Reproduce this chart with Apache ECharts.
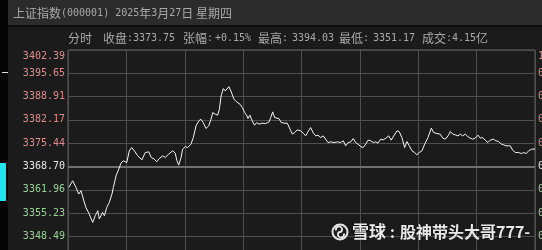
<!DOCTYPE html>
<html>
<head>
<meta charset="utf-8">
<script src="https://cdn.jsdelivr.net/npm/echarts@6/dist/echarts.min.js"></script>
<style>
html,body{margin:0;padding:0;background:#1b1b1b;}
#c{width:542px;height:250px;}
</style>
</head>
<body>
<div id="c"></div>
<script>
// ---- data ----
const PREV_CLOSE = 3368.70;
const pctTicks = [-1.0, -0.8, -0.6, -0.4, -0.2, 0, 0.2, 0.4, 0.6, 0.8, 1.0];
// minutes since 9:30 (0..240, lunch break removed)
const minutes = [0.4,2.4,4.1,5.5,6.7,7.9,9.2,10.9,12.7,14.0,15.3,16.1,17.8,18.7,19.9,21.2,22.6,23.3,24.7,26.1,
27.2,28.4,29.4,30.2,31.5,32.7,34.1,35.8,38.0,39.7,41.5,42.8,44.3,45.6,46.9,48.7,50.0,51.7,53.8,55.1,
56.0,56.9,58.1,58.9,60.3,61.5,63.2,64.4,65.8,67.2,68.3,69.5,70.9,72.3,73.5,74.4,75.7,76.9,77.8,78.7,
79.8,80.8,82.7,83.9,85.3,86.7,88.4,89.6,90.8,91.8,92.5,93.5,94.7,95.9,97.0,98.2,99.8,101.6,103.3,104.2,
105.2,106.2,107.2,108.4,109.6,111.0,112.7,114.1,115.3,116.5,117.8,119.6,120.9,122.1,123.3,124.7,126.1,127.3,128.5,129.9,
131.2,132.4,133.6,135.0,136.7,138.4,140.1,141.5,142.7,143.9,145.3,146.6,147.8,149.0,150.4,151.7,153.0,154.2,155.6,156.9,
158.1,159.3,160.7,162.0,163.4,164.8,166.1,167.4,169.1,170.2,171.6,173.0,174.2,175.4,176.8,178.2,179.3,180.5,181.9,183.3,
185.0,186.7,187.9,189.6,191.3,192.6,193.9,195.3,196.5,197.7,199.0,200.4,201.6,202.8,204.2,205.6,206.7,208.0,209.3,210.7,
211.9,213.1,214.4,215.8,217.0,218.7,219.9,221.3,222.7,223.9,225.1,226.1,227.3,228.5,229.9,231.6,233.0,234.2,235.4,236.8,
238.2,240.0];
const prices = [3362.64,3364.57,3362.64,3360.73,3361.69,3359.29,3356.86,3354.96,3352.53,3354.47,3355.91,3353.52,3355.42,3354.47,3356.86,3358.31,3360.73,3362.64,3366.02,3367.95,
3369.68,3370.35,3370.84,3369.85,3373.23,3374.18,3373.23,3371.79,3370.63,3372.74,3372.94,3371.30,3370.84,3370.06,3371.01,3371.79,3371.30,3372.28,3373.23,3372.57,
3370.35,3369.10,3371.30,3373.72,3374.47,3374.18,3375.17,3377.07,3380.45,3381.89,3382.38,3381.40,3379.67,3380.45,3382.38,3384.29,3383.83,3383.54,3385.27,3389.11,
3391.22,3390.55,3391.79,3390.26,3388.16,3387.38,3386.71,3385.73,3384.29,3383.54,3382.56,3383.54,3381.89,3380.65,3381.40,3380.94,3381.23,3381.11,3381.60,3382.85,
3384.49,3382.85,3382.38,3382.56,3381.40,3381.23,3381.23,3379.50,3378.05,3378.52,3379.29,3379.01,3378.34,3377.56,3378.72,3379.96,3378.34,3377.56,3377.76,3377.07,
3377.56,3376.61,3375.63,3375.83,3375.63,3375.83,3375.63,3376.12,3374.68,3375.63,3375.83,3376.78,3375.63,3375.17,3374.47,3374.18,3375.17,3376.32,3376.12,3375.63,
3375.83,3375.46,3376.61,3376.41,3376.90,3377.56,3376.32,3377.56,3379.01,3378.80,3377.07,3374.18,3375.92,3374.68,3373.23,3372.74,3372.08,3372.74,3373.23,3375.17,
3377.07,3379.79,3378.52,3378.23,3378.05,3376.90,3376.61,3377.56,3378.80,3378.05,3377.85,3377.56,3378.05,3377.56,3378.05,3377.27,3376.90,3376.61,3376.90,3377.76,
3376.90,3377.07,3376.32,3375.63,3376.32,3376.61,3376.12,3375.92,3375.17,3374.96,3374.68,3374.18,3374.68,3373.43,3372.74,3372.74,3372.45,3372.74,3372.45,3373.23,
3373.72,3373.72];
const titleText = {name:'上证指数', code:'(000001)', year:'2025', month:'3', day:'27', week:'星期四'};
const stats = {close:'3373.75', change:'+0.15%', high:'3394.03', low:'3351.17', volume:'4.15'};
const watermark = {site:'雪球', user:'股神带头大哥777-'};

// ---- chart ----
const chart = echarts.init(document.getElementById('c'), null, {renderer:'canvas'});
const MONO = '"DejaVu Sans Mono", monospace';
const CJK = '"Noto Sans CJK SC", sans-serif';
const RED = '#e08a8a', GREEN = '#96d496', WHITE = '#e6e6e6';
function cls(v){ return v > 0.001 ? 'r' : (v < -0.001 ? 'g' : 'w'); }
function pct(p){ return (p / PREV_CLOSE - 1) * 100; }
const lineData = minutes.map((m, i) => [m, pct(prices[i])]);

const labelRich = {
  r:{color:RED, fontFamily:MONO, fontSize:10},
  g:{color:GREEN, fontFamily:MONO, fontSize:10},
  w:{color:WHITE, fontFamily:MONO, fontSize:10},
  rt:{color:RED, fontFamily:MONO, fontSize:10, padding:[13,0,0,0]}
};

const hdrGray = '#a9a9a9', hdrRed = '#d46a6a', hdrGreen = '#80cc80';
function txt(x, y, text, rich){
  return {type:'text', x:x, y:y, silent:true,
    style:{text:text, rich:rich, verticalAlign:'middle', align:'left', font:'12px ' + CJK, fill:hdrGray}};
}
const hdrRich = (color) => ({
  c:{fontFamily:CJK, fontSize:12, color:hdrGray},
  m:{fontFamily:MONO, fontSize:10, color:color || hdrGray}
});

const option = {
  backgroundColor:'#1b1b1b',
  animation:false,
  grid:{left:68, right:7, top:50, bottom:-33, containLabel:false, outerBoundsMode:'none',
    show:true, borderColor:'#626262', borderWidth:1, backgroundColor:'transparent'},
  xAxis:{type:'value', min:0, max:240, interval:30,
    axisLine:{show:false}, axisTick:{show:false}, axisLabel:{show:false},
    splitLine:{show:true, lineStyle:{color:'#4e4e4e', width:1}}},
  yAxis:[
    {type:'value', min:-1, max:1, interval:0.2, position:'left',
      axisLine:{show:false}, axisTick:{show:false},
      splitLine:{show:true, lineStyle:{color:'#4e4e4e', width:1}},
      axisLabel:{margin:3, rich:labelRich, formatter:function(v){
        const s = (PREV_CLOSE * (1 + v / 100)).toFixed(2);
        if (v > 0.999) return '{rt|' + s + '}';
        return '{' + cls(v) + '|' + s + '}';
      }}},
    {type:'value', min:-1, max:1, interval:0.2, position:'right',
      axisLine:{show:false}, axisTick:{show:false}, splitLine:{show:false},
      axisLabel:{margin:3, rich:labelRich, formatter:function(v){
        const s = Math.abs(v).toFixed(2) + '%';
        if (v > 0.999) return '{rt|' + s + '}';
        return '{' + cls(v) + '|' + s + '}';
      }}}
  ],
  series:[{
    type:'line', data:lineData, showSymbol:false, symbol:'none',
    lineStyle:{color:'#f4f4f4', width:1}, z:5,
    markLine:{silent:true, symbol:'none', label:{show:false},
      lineStyle:{color:'#707070', width:2, type:'solid'}, data:[{yAxis:0}]}
  }],
  graphic:[
    {type:'rect', shape:{x:0, y:0, width:542, height:25}, style:{fill:'#2b2b2b'}, silent:true},
    {type:'rect', shape:{x:0, y:25, width:542, height:2}, style:{fill:'#0d0d0d'}, silent:true},
    {type:'rect', shape:{x:0, y:0, width:8, height:250}, style:{fill:'#050505'}, silent:true},
    {type:'rect', shape:{x:0, y:163, width:6, height:38}, style:{fill:'#22e4ec'}, silent:true},
    {type:'rect', shape:{x:2, y:72, width:6, height:1}, style:{fill:'#dddddd'}, silent:true},
    txt(13, 13, '{t|' + titleText.name + '}{n|' + titleText.code + ' ' + titleText.year + '}{t|年}{n|' + titleText.month + '}{t|月}{n|' + titleText.day + '}{t|日 ' + titleText.week + '}',
      {t:{fontFamily:CJK, fontSize:12, color:'#d2d2d2'}, n:{fontFamily:MONO, fontSize:10, color:'#d2d2d2'}}),
    txt(68, 38, '{c|分时}', {c:{fontFamily:CJK, fontSize:12, color:'#ffffff'}}),
    txt(103, 38, '{c|收盘}{m|:}', hdrRich()),
    txt(133, 38, '{m|' + stats.close + '}', hdrRich(hdrRed)),
    txt(183, 38, '{c|张幅}{m|:}', hdrRich()),
    txt(215, 38, '{m|' + stats.change + '}', hdrRich(hdrRed)),
    txt(258, 38, '{c|最高}{m|:}', hdrRich()),
    txt(292, 38, '{m|' + stats.high + '}', hdrRich(hdrRed)),
    txt(339, 38, '{c|最低}{m|:}', hdrRich()),
    txt(373, 38, '{m|' + stats.low + '}', hdrRich(hdrGreen)),
    txt(422, 38, '{c|成交}{m|:' + stats.volume + '}{c|亿}', hdrRich()),
    // watermark
    {type:'circle', shape:{cx:340, cy:232, r:7.5}, style:{fill:'none', stroke:'#e6e6e6', lineWidth:2}, silent:true, z:100},
    {type:'arc', shape:{cx:339, cy:229.5, r:3, startAngle:Math.PI*0.9, endAngle:Math.PI*2.4}, style:{fill:'none', stroke:'#e6e6e6', lineWidth:1.8}, silent:true, z:100},
    {type:'arc', shape:{cx:341, cy:234.5, r:3, startAngle:Math.PI*1.9, endAngle:Math.PI*3.4}, style:{fill:'none', stroke:'#e6e6e6', lineWidth:1.8}, silent:true, z:100},
    {type:'text', x:352, y:232, z:100, silent:true, style:{text:watermark.site, font:'bold 17px ' + CJK, fill:'#e8e8e8', verticalAlign:'middle', textShadowColor:'rgba(0,0,0,0.5)', textShadowBlur:2}},
    {type:'text', x:390, y:232, z:100, silent:true, style:{text:':', font:'bold 15px ' + CJK, fill:'#e8e8e8', verticalAlign:'middle'}},
    {type:'text', x:400, y:232, z:100, silent:true, style:{text:watermark.user, font:'bold 16px ' + CJK, fill:'#e8e8e8', verticalAlign:'middle', textShadowColor:'rgba(0,0,0,0.5)', textShadowBlur:2}}
  ]
};
chart.setOption(option);
</script>
</body>
</html>
